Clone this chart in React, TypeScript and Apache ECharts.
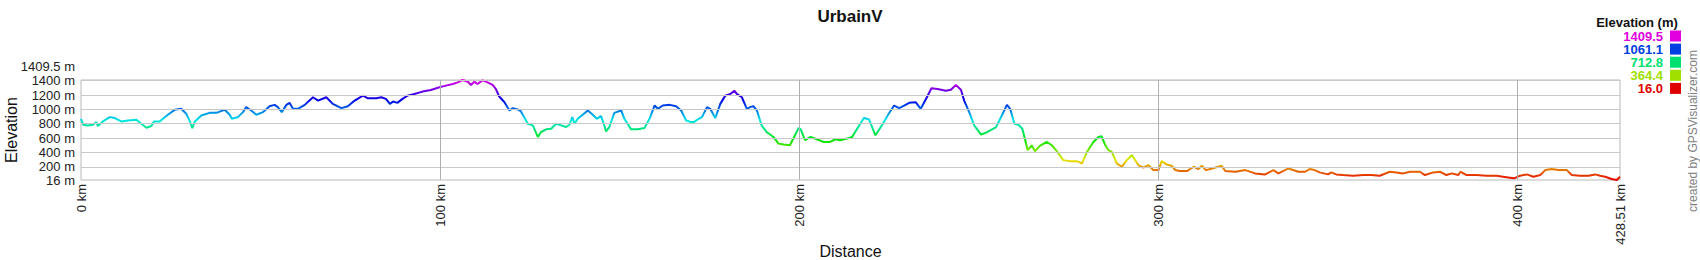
import { useEffect, useRef } from 'react';
import * as echarts from 'echarts';

const chartTitle = 'UrbainV';
const xAxisName = 'Distance';
const yAxisName = 'Elevation';
const legendTitle = 'Elevation (m)';
const creditText = 'created by GPSVisualizer.com';

const distanceKm = [
  0, 0.6, 1.9, 3.3, 4.3, 4.7, 6.1, 8.0, 9.4, 11.2, 13.1, 15.4, 16.8, 18.2, 19.6, 20.3, 21.9, 22.8, 24.2, 26.1,
  27.9, 29.3, 30.2, 31.0, 31.6, 33.5, 35.8, 37.7, 40.0, 41.4, 42.0, 43.7, 45.1, 46.0, 47.4, 48.8, 50.7, 52.5, 53.9, 54.8,
  55.9, 57.2, 58.1, 59.0, 60.4, 62.3, 64.6, 66.0, 68.3, 70.1, 72.5, 74.3, 76.2, 78.5, 79.9, 82.2, 83.6,
  84.9, 86.0, 86.9, 88.1, 89.5, 90.9, 92.8, 95.1, 97.4, 99.8, 101.6, 103.5, 104.9, 106.2, 107.7, 108.6, 109.5, 110.4, 111.8, 113.2,
  114.6, 115.5, 116.4, 117.9, 119.3, 120.2, 121.6, 122.5, 123.4, 124.4, 125.8, 127.2, 128.1, 129.5, 130.9, 132.3, 133.7, 135.1, 136.0, 136.8,
  137.4, 138.3, 139.7, 141.1, 142.5, 143.6, 144.8, 145.7, 146.2, 147.1, 148.5, 150.4, 151.3, 153.2, 155.0, 156.9, 158.3, 159.7, 160.6, 162.0,
  163.9, 165.7, 167.1, 168.5, 169.9,
  170.6, 172.0, 172.9, 174.3, 175.2, 176.6, 178.0, 179.4, 180.8, 181.9, 182.6, 184.0, 185.4, 186.3, 187.2, 188.2, 189.5, 190.9, 192.8, 194.2,
  195.6, 197.4, 198.8, 199.8, 200.4, 201.6, 203.1, 204.9, 206.8, 208.6, 210.0, 211.4, 213.3, 214.7, 216.1, 218.0, 219.4, 221.2, 223.1, 224.9,
  226.4, 227.8, 229.2, 230.6, 232.4, 233.8, 235.2, 236.8, 238.5, 240.8, 242.2, 243.6, 245.0, 245.9, 247.3, 248.7, 250.6, 252.4, 254.8,
  256.4, 257.8, 258.7, 259.9, 261.0, 262.1, 263.6, 264.7, 265.6, 267.0, 268.9, 270.3, 271.7, 273.5, 275.4, 277.3, 278.7, 280.1, 281.9, 283.3,
  284.2, 285.2, 286.1, 287.0, 288.4, 289.8, 291.2, 292.6, 294.4, 295.8, 297.2, 298.6, 300.0, 300.9, 302.3, 303.7, 304.7, 306.0, 307.9, 309.8,
  311.1, 312.1, 313.2, 314.9, 317.6, 318.6, 321.4, 324.2, 326.9, 329.7, 332.0, 333.4, 336.2, 339.0, 340.8,
  342.1, 343.5, 344.9, 347.2, 348.1, 349.5, 351.4, 354.2, 357.0, 359.3, 361.6, 364.4, 366.3, 368.1, 370.0, 372.8, 374.2, 376.5, 378.4, 380.2,
  381.6, 383.5, 384.1, 385.8, 388.6, 391.4, 394.2, 396.0, 397.9, 399.0, 400.7, 402.6, 404.4, 406.3, 407.7, 409.5, 411.4, 413.7, 415.1, 417.4,
  419.7, 421.6, 423.0, 424.4, 426.2, 427.6, 428.51,
];

const elevationM = [
  869, 786, 777, 786, 823, 768, 832, 892, 879, 832, 846, 856, 800, 745, 768, 832, 832, 869, 925, 994,
  1008, 939, 846, 740, 823, 915, 952, 952, 994, 925, 869, 892, 962, 1031, 985, 925, 962, 1044, 1063, 1031,
  962, 1063, 1091, 1008, 1008, 1063, 1169, 1123, 1169, 1077, 1017, 1044, 1123, 1192, 1155, 1155, 1169,
  1146, 1077, 1109, 1091, 1146, 1192, 1215, 1248, 1271, 1308, 1331, 1354, 1377, 1409.5, 1386, 1340, 1386, 1354, 1405, 1377,
  1340, 1285, 1183, 1100, 985, 1017, 999, 971, 892, 800, 777, 616, 685, 722, 731, 800, 777, 754, 786, 892,
  800, 869, 925, 985, 925, 869, 906, 777, 694, 754, 952, 985, 869, 722, 722, 740, 869, 1054, 1008, 1054,
  1063, 1044, 985, 846, 823,
  823, 869, 892, 1031, 1008, 879, 1077, 1192, 1215, 1261, 1215, 1169, 1008, 1031, 1044, 985, 777, 685, 616, 523,
  510, 500, 639, 740, 722, 570, 616, 583, 546, 546, 583, 570, 593, 616, 731, 879, 860, 639, 786, 939,
  1054, 1017, 1054, 1091, 1100, 1008, 1137, 1294, 1285, 1261, 1275, 1340, 1275, 1123, 962, 777, 648, 685, 754,
  915, 1063, 1008, 800, 786, 731, 431, 500, 417, 491, 546, 500, 417, 293, 279, 279, 247, 408, 546, 616,
  625, 500, 431, 408, 247, 201, 293, 362, 224, 187, 224, 154, 154, 279, 233, 214, 154, 141, 141, 201,
  168, 214, 154, 177, 214, 141, 131, 154, 108, 94, 154, 108, 177, 131, 131,
  168, 154, 122, 94, 122, 94, 85, 76, 85, 85, 76, 131, 122, 108, 131, 131, 85, 122, 131, 85,
  108, 85, 131, 85, 85, 76, 76, 62, 48, 39, 76, 94, 62, 85, 154, 168, 154, 154, 85, 76,
  76, 94, 76, 62, 30, 16, 62,
];

const elevMin = 16;
const elevMax = 1409.5;
const distMax = 428.51;
const xTickValues = [0, 100, 200, 300, 400, 428.51];
const yTickValues = [16, 200, 400, 600, 800, 1000, 1200, 1400];
const yTopTickValues = [1409.5];
const xGridValues = [100, 200, 300, 400];
const yGridValues = [200, 400, 600, 800, 1000, 1200, 1400];

const legendValues = ['1409.5', '1061.1', '712.8', '364.4', '16.0'];
const legendColors = ['#e000e0', '#0040e0', '#00e070', '#a0e000', '#e00000'];

// hue ramp from red (low) to magenta (high)
const rampColors = [
  '#e60000', '#e67300', '#e6e600', '#73e600', '#00e600', '#00e673',
  '#00e6e6', '#0073e6', '#0000e6', '#7300e6', '#e600e6',
];

const FONT = 'Liberation Sans, Arial, Helvetica, sans-serif';

export default function App() {
  const ref = useRef<HTMLDivElement>(null);

  useEffect(() => {
    if (!ref.current) return;
    const chart = echarts.init(ref.current, null, { renderer: 'svg' });
    const data = distanceKm.map((d, i) => [d, elevationM[i]]);

    const legendRowY0 = 36;
    const legendStep = 13.1;
    const legendEls: any[] = [
      {
        type: 'text',
        x: 1637,
        y: 22,
        style: {
          text: legendTitle,
          fill: '#111',
          font: `bold 13px ${FONT}`,
          textAlign: 'center',
          textVerticalAlign: 'middle',
          align: 'center',
          verticalAlign: 'middle',
        },
      },
    ];
    legendValues.forEach((v, i) => {
      const cy = legendRowY0 + i * legendStep;
      legendEls.push({
        type: 'text',
        x: 1663,
        y: cy,
        style: {
          text: v,
          fill: legendColors[i],
          font: `bold 13px ${FONT}`,
          textAlign: 'right',
          textVerticalAlign: 'middle',
          align: 'right',
          verticalAlign: 'middle',
        },
      });
      legendEls.push({
        type: 'rect',
        shape: { x: 1670, y: cy - 5.5, width: 11, height: 11 },
        style: { fill: legendColors[i] },
      });
    });
    legendEls.push({
      type: 'text',
      x: 1693,
      y: 131,
      rotation: Math.PI / 2,
      style: {
        text: creditText,
        fill: '#808080',
        font: `12px ${FONT}`,
        textAlign: 'center',
        textVerticalAlign: 'middle',
        align: 'center',
        verticalAlign: 'middle',
      },
    });

    const baseYAxis = {
      type: 'value',
      min: elevMin,
      max: elevMax,
      position: 'left',
      axisLine: { show: false },
      axisTick: { show: false },
      splitLine: { show: false },
    };

    chart.setOption({
      animation: false,
      backgroundColor: '#ffffff',
      textStyle: { fontFamily: FONT },
      title: {
        text: chartTitle,
        left: 'center',
        top: 3,
        textStyle: { fontSize: 17, fontWeight: 'bold', color: '#111', fontFamily: FONT },
      },
      grid: {
        left: 81,
        right: 80,
        top: 80,
        bottom: 80,
        containLabel: false,
        outerBoundsMode: 'none',
        show: true,
        borderColor: '#b8b8b8',
        borderWidth: 1,
        backgroundColor: 'transparent',
      },
      visualMap: {
        type: 'continuous',
        show: false,
        min: elevMin,
        max: elevMax,
        dimension: 1,
        seriesIndex: 1,
        inRange: { color: rampColors },
      },
      xAxis: {
        type: 'value',
        min: 0,
        max: distMax,
        axisLine: { show: false },
        axisTick: { show: false },
        splitLine: { show: false },
        axisLabel: {
          customValues: xTickValues,
          rotate: 90,
          margin: 4,
          fontSize: 13,
          color: '#222',
          hideOverlap: false,
          showMinLabel: true,
          showMaxLabel: true,
          formatter: (v: number) => `${v} km`,
        },
        name: xAxisName,
        nameLocation: 'middle',
        nameGap: 63,
        nameMoveOverlap: false,
        nameTextStyle: { fontSize: 16, color: '#111' },
      },
      yAxis: [
        {
          ...baseYAxis,
          axisLabel: {
            customValues: yTickValues,
            margin: 6,
            fontSize: 13,
            color: '#222',
            hideOverlap: false,
            showMinLabel: true,
            showMaxLabel: true,
            formatter: (v: number) => `${v} m`,
          },
          name: yAxisName,
          nameLocation: 'middle',
          nameGap: 62,
          nameRotate: 90,
          nameMoveOverlap: false,
          nameTextStyle: { fontSize: 16, color: '#111' },
        },
        {
          ...baseYAxis,
          offset: 0,
          axisLabel: {
            customValues: yTopTickValues,
            margin: 6,
            fontSize: 13,
            color: '#222',
            verticalAlign: 'bottom',
            lineHeight: 13,
            padding: [0, 0, 7, 0],
            hideOverlap: false,
            showMinLabel: true,
            showMaxLabel: true,
            formatter: (v: number) => `${v} m`,
          },
        },
      ],
      series: [
        {
          type: 'line',
          data: [],
          silent: true,
          z: 1,
          markLine: {
            silent: true,
            symbol: ['none', 'none'],
            label: { show: false },
            emphasis: { disabled: true },
            animation: false,
            lineStyle: { type: 'solid', width: 1, color: '#c8c8c8' },
            data: [
              ...yGridValues.map((v) => ({ yAxis: v, lineStyle: { color: '#c8c8c8', type: 'solid', width: 1 } })),
              ...xGridValues.map((v) => ({ xAxis: v, lineStyle: { color: '#b0b0b0', type: 'solid', width: 1 } })),
            ],
          },
        },
        {
          type: 'line',
          data,
          showSymbol: false,
          silent: true,
          z: 3,
          lineStyle: { width: 2 },
        },
      ],
      graphic: legendEls,
    });

    return () => chart.dispose();
  }, []);

  return (
    <div
      ref={ref}
      style={{ position: 'absolute', left: 0, top: 0, width: 1700, height: 260, background: '#fff' }}
    />
  );
}
